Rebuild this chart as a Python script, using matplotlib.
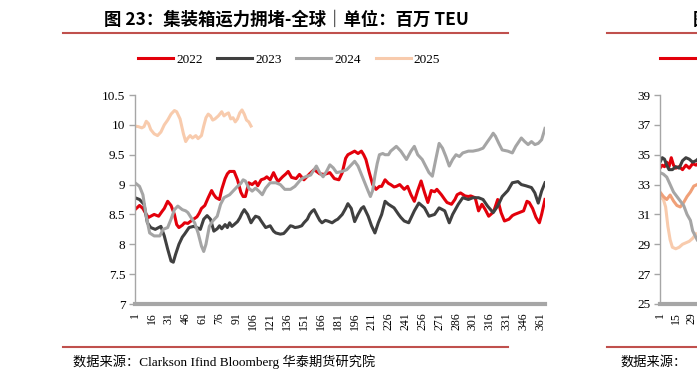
import matplotlib
matplotlib.use("Agg")
import matplotlib.pyplot as plt
from matplotlib.lines import Line2D

# ---------------- data: left chart (全球), million TEU, by day of year ----------------
x22 = [1, 5, 8, 11, 13, 16, 18, 22, 25, 27, 30, 33, 36, 38, 40, 43, 45, 48, 50, 53, 56, 58, 60, 63, 66, 69, 71, 73,
       76, 78, 81, 83, 85, 89, 92, 95, 97, 99, 102, 105, 108, 110, 113, 116, 118, 121, 124, 126, 128, 132, 135, 137,
       140, 144, 147, 151, 156, 160, 165, 169, 174, 178, 182, 185, 188, 190, 193, 196, 199, 202, 204, 206, 209, 212,
       215, 218, 220, 223, 226, 228, 231, 233, 236, 240, 243, 246, 249, 252, 255, 258, 261, 264, 267, 269, 273, 276,
       278, 282, 285, 287, 290, 294, 297, 299, 303, 306, 309, 312, 315, 318, 320, 323, 326, 329, 333, 336, 338, 342,
       346, 349, 351, 354, 357, 360, 362, 365]
y22 = [8.58, 8.65, 8.6, 8.5, 8.45, 8.48, 8.5, 8.47, 8.55, 8.6, 8.72, 8.65, 8.5, 8.33, 8.28, 8.32, 8.36, 8.35, 8.38,
       8.42, 8.46, 8.52, 8.6, 8.65, 8.78, 8.9, 8.83, 8.78, 8.75, 8.92, 9.1, 9.18, 9.22, 9.22, 9.08, 8.87, 8.8, 8.8,
       9.03, 9.0, 9.05, 8.98, 9.08, 9.1, 9.13, 9.08, 9.2, 9.12, 9.05, 9.13, 9.18, 9.22, 9.12, 9.1, 9.17, 9.08, 9.18,
       9.25, 9.18, 9.17, 9.2, 9.1, 9.08, 9.2, 9.44, 9.5, 9.53, 9.56, 9.52, 9.56, 9.5, 9.42, 9.2, 9.0, 8.92, 8.97, 8.97,
       9.08, 9.02, 9.0, 8.96, 8.97, 9.0, 8.92, 8.97, 8.83, 8.72, 8.9, 9.06, 8.87, 8.7, 8.9, 8.88, 8.92, 8.83, 8.75,
       8.7, 8.67, 8.75, 8.83, 8.86, 8.81, 8.8, 8.81, 8.78, 8.56, 8.67, 8.58, 8.47, 8.52, 8.58, 8.75, 8.53, 8.39, 8.42,
       8.48, 8.5, 8.53, 8.56, 8.72, 8.7, 8.6, 8.45, 8.36, 8.5, 8.75]

x23 = [1, 5, 9, 12, 15, 19, 24, 27, 30, 33, 35, 37, 40, 43, 45, 49, 53, 56, 59, 62, 65, 68, 71, 74, 76, 78, 81, 83, 85,
       87, 89, 92, 94, 96, 98, 101, 104, 106, 108, 111, 113, 117, 121, 124, 126, 130, 133, 135, 139, 141, 143, 146,
       149, 151, 154, 156, 158, 160, 163, 165, 167, 170, 172, 176, 179, 181, 185, 188, 190, 193, 196, 199, 202, 204,
       208, 211, 214, 217, 220, 223, 226, 231, 235, 237, 240, 244, 249, 253, 258, 262, 267, 271, 276, 280, 283, 288,
       292, 297, 301, 306, 310, 314, 319, 323, 327, 332, 336, 341, 344, 348, 353, 356, 359, 362, 365]
y23 = [8.78, 8.75, 8.67, 8.36, 8.28, 8.25, 8.3, 8.14, 7.92, 7.72, 7.7, 7.83, 8.0, 8.12, 8.17, 8.28, 8.3, 8.28, 8.25,
       8.42, 8.48, 8.42, 8.22, 8.26, 8.31, 8.26, 8.33, 8.28, 8.36, 8.3, 8.33, 8.38, 8.44, 8.52, 8.58, 8.5, 8.36, 8.42,
       8.47, 8.45, 8.39, 8.28, 8.31, 8.22, 8.19, 8.17, 8.18, 8.22, 8.31, 8.3, 8.28, 8.29, 8.31, 8.36, 8.42, 8.5, 8.55,
       8.58, 8.47, 8.4, 8.36, 8.4, 8.39, 8.36, 8.4, 8.42, 8.5, 8.6, 8.68, 8.6, 8.38, 8.5, 8.6, 8.63, 8.47, 8.31, 8.19,
       8.36, 8.5, 8.72, 8.67, 8.61, 8.5, 8.45, 8.39, 8.36, 8.56, 8.69, 8.61, 8.47, 8.5, 8.61, 8.56, 8.36, 8.5, 8.67,
       8.78, 8.75, 8.78, 8.78, 8.75, 8.64, 8.53, 8.64, 8.8, 8.9, 9.03, 9.05, 9.0, 8.98, 8.95, 8.86, 8.69, 8.89, 9.03]

x24 = [1, 3, 5, 8, 11, 14, 18, 23, 26, 30, 33, 36, 39, 43, 46, 48, 51, 54, 57, 60, 62, 64, 67, 70, 74, 77, 80, 85, 88,
       92, 95, 97, 99, 102, 105, 108, 111, 114, 117, 121, 126, 130, 134, 139, 143, 148, 151, 154, 157, 159, 162, 165,
       168, 171, 174, 177, 180, 185, 189, 193, 196, 199, 202, 205, 208, 210, 212, 214, 216, 218, 221, 223, 226, 228,
       233, 237, 242, 246, 249, 252, 256, 259, 262, 265, 268, 271, 274, 277, 280, 283, 286, 289, 292, 297, 301, 306,
       310, 314, 317, 319, 321, 324, 327, 332, 336, 339, 344, 347, 350, 353, 356, 359, 362, 365]
y24 = [9.03, 9.0, 8.97, 8.83, 8.47, 8.19, 8.14, 8.14, 8.25, 8.28, 8.42, 8.58, 8.64, 8.58, 8.56, 8.53, 8.44, 8.36, 8.19,
       7.97, 7.88, 8.0, 8.3, 8.39, 8.47, 8.67, 8.78, 8.83, 8.89, 8.97, 9.02, 9.08, 9.06, 8.94, 8.89, 8.94, 8.89, 8.83,
       8.94, 9.03, 9.03, 9.0, 8.92, 8.92, 8.97, 9.08, 9.12, 9.14, 9.16, 9.22, 9.31, 9.2, 9.13, 9.22, 9.33, 9.28, 9.2,
       9.22, 9.25, 9.33, 9.39, 9.31, 9.17, 9.03, 8.89, 8.8, 8.9, 9.15, 9.35, 9.5, 9.52, 9.5, 9.5, 9.56, 9.64, 9.56,
       9.42, 9.56, 9.64, 9.5, 9.42, 9.31, 9.2, 9.14, 9.42, 9.69, 9.61, 9.47, 9.31, 9.42, 9.5, 9.47, 9.53, 9.56, 9.56,
       9.58, 9.61, 9.72, 9.8, 9.86, 9.81, 9.69, 9.58, 9.56, 9.53, 9.64, 9.78, 9.72, 9.67, 9.72, 9.67, 9.69, 9.75, 9.94]

x25 = [1, 4, 7, 9, 11, 13, 15, 18, 21, 24, 27, 30, 33, 36, 38, 41, 44, 46, 48, 50, 52, 55, 57, 60, 62, 64, 66, 68, 70,
       72, 75, 78, 80, 82, 84, 86, 88, 90, 92, 94, 96, 98, 100, 102, 104]
y25 = [9.98, 9.97, 9.95, 9.97, 10.06, 10.02, 9.92, 9.85, 9.82, 9.88, 10.0, 10.08, 10.18, 10.24, 10.22, 10.1, 9.85,
       9.72, 9.78, 9.82, 9.78, 9.82, 9.77, 9.82, 9.98, 10.12, 10.18, 10.15, 10.08, 10.1, 10.15, 10.22, 10.15, 10.18,
       10.2, 10.1, 10.12, 10.05, 10.1, 10.2, 10.25, 10.18, 10.08, 10.05, 9.98]

years = ["2022", "2023", "2024", "2025"]
colors = ["#E3000B", "#404040", "#A5A5A5", "#F8CBAD"]
xticks = list(range(1, 366, 15))
yticks = [7, 7.5, 8, 8.5, 9, 9.5, 10, 10.5]
ytick_labels = ["7", "7.5", "8", "8.5", "9", "9.5", "10", "10.5"]

# ---------------- data: right chart (only its left edge is visible) ----------------
rx_red = [1, 3, 5, 7, 9, 11, 13, 15, 18, 21, 24, 27, 30, 33, 36]
ry_red = [34.1, 34.3, 34.2, 34.5, 34.2, 34.8, 34.3, 34.1, 34.2, 34.0, 34.3, 34.1, 34.4, 34.3, 34.5]
rx_dark = [1, 3, 5, 7, 9, 12, 15, 18, 21, 24, 27, 30, 33, 36]
ry_dark = [34.5, 34.8, 34.7, 34.3, 34.0, 34.0, 34.2, 34.1, 34.6, 34.8, 34.7, 34.5, 34.6, 34.8]
rx_gray = [1, 4, 7, 10, 13, 16, 19, 22, 25, 28, 30, 32, 34]
ry_gray = [33.8, 33.7, 33.5, 33.0, 32.5, 32.2, 31.9, 31.6, 31.0, 30.6, 29.9, 29.6, 29.3]
rx_orange = [1, 4, 7, 10, 13, 16, 19, 22, 25, 28, 31, 34]
ry_orange = [32.5, 32.2, 32.0, 32.3, 31.9, 31.6, 31.5, 31.8, 32.2, 32.5, 32.9, 33.0]
rx_peach = [1, 4, 6, 8, 10, 12, 15, 18, 21, 24, 27, 30, 33]
ry_peach = [32.2, 32.0, 31.5, 30.2, 29.3, 28.8, 28.7, 28.8, 29.0, 29.1, 29.2, 29.4, 29.7]
r_xticks = [1, 15, 29]
r_yticks = list(range(25, 40, 2))

W, H = 697, 383
fig = plt.figure(figsize=(W / 100, H / 100), dpi=100)

SERIF = ["Liberation Serif", "Noto Sans CJK SC"]
CJK = ["Noto Sans CJK SC", "DejaVu Sans"]
AXC = "#A6A6A6"


def style_axis(ax, xt, yt, ytl, ylim):
    ax.set_xlim(1, 365)
    ax.set_ylim(*ylim)
    for s in ("top", "right"):
        ax.spines[s].set_visible(False)
    ax.spines["left"].set_color(AXC)
    ax.spines["left"].set_linewidth(1.0)
    ax.spines["bottom"].set_color(AXC)
    ax.spines["bottom"].set_linewidth(3.0)
    ax.set_xticks(xt)
    ax.set_xticklabels([str(v) for v in xt], rotation=90, fontsize=8.5, family=SERIF)
    ax.set_yticks(yt)
    ax.set_yticklabels(ytl, fontsize=9.5, family=SERIF)
    ax.tick_params(axis="x", length=0, pad=6, colors="#000000")
    ax.tick_params(axis="y", length=4, width=1, color=AXC, pad=3, labelcolor="#000000")
    ax.set_facecolor("none")


# ---------------- left chart ----------------
ax = fig.add_axes([135 / W, 1 - 304 / H, 410 / W, 209 / H])
series = [(x22, y22), (x23, y23), (x24, y24), (x25, y25)]
handles = []
for (xs, ys), lab, c in zip(series, years, colors):
    h, = ax.plot(xs, ys, color=c, lw=2.2, label=lab, solid_joinstyle="round")
    handles.append(h)
style_axis(ax, xticks, yticks, ytick_labels, (7, 10.5))
ax.legend(handles, years, loc="center", bbox_to_anchor=(289 / W, 1 - 60 / H),
          bbox_transform=fig.transFigure, ncol=4, frameon=False, borderpad=0,
          borderaxespad=0, handlelength=2.65, handletextpad=0.25, columnspacing=1.1,
          prop={"family": SERIF, "size": 9.5})

# ---------------- right chart (cut off by the figure edge, as in the page) ----------------
ax2 = fig.add_axes([660 / W, 1 - 304 / H, 410 / W, 209 / H])
r_series = [(rx_peach, ry_peach, "#F8CBAD"), (rx_orange, ry_orange, "#F0A078"),
            (rx_gray, ry_gray, "#A5A5A5"), (rx_red, ry_red, "#E3000B"), (rx_dark, ry_dark, "#404040")]
for xs, ys, c in r_series:
    ax2.plot(xs, ys, color=c, lw=2.2)
style_axis(ax2, r_xticks, r_yticks, [str(v) for v in r_yticks], (25, 39))
# only the first legend swatch of the neighbouring chart is visible at the page edge
ax2.legend([Line2D([], [], color=colors[0], lw=2.2)], [""], loc="center left",
           bbox_to_anchor=(660 / W, 1 - 60 / H), bbox_transform=fig.transFigure, frameon=False,
           borderpad=0, borderaxespad=0, handlelength=2.65, handletextpad=0.25,
           prop={"family": SERIF, "size": 9.5})

# ---------------- titles, rules, source ----------------
fig.text(286 / W, 1 - 20 / H, "图 23：集装箱运力拥堵-全球｜单位：百万 TEU", ha="center", va="center",
         fontsize=12.5, fontweight="bold", family=CJK)
fig.text(693 / W, 1 - 20 / H, "图", ha="left", va="center",
         fontsize=12.5, fontweight="bold", family=CJK)
RULE = "#C0504D"
for y in (33, 347):
    fig.add_artist(Line2D([63 / W, 508 / W], [1 - y / H] * 2, color=RULE, lw=1.5))
    fig.add_artist(Line2D([607 / W, 1.0], [1 - y / H] * 2, color=RULE, lw=1.5))
fig.text(73 / W, 1 - 362 / H, "数据来源：Clarkson Ifind Bloomberg 华泰期货研究院", ha="left", va="center",
         fontsize=9.5, family=SERIF)
fig.text(620 / W, 1 - 362 / H, "数据来源：", ha="left", va="center", fontsize=9.5, family=SERIF)

fig.savefig("out.png", dpi=100)
